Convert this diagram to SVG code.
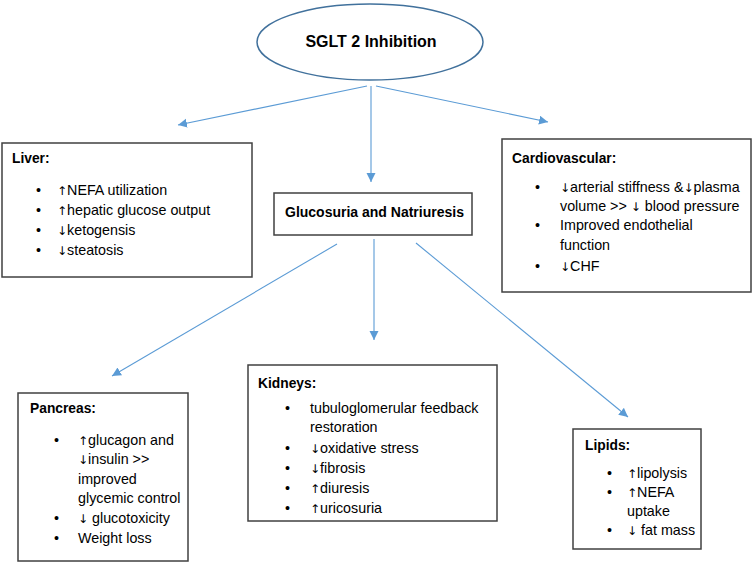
<svg xmlns="http://www.w3.org/2000/svg" width="753" height="562" viewBox="0 0 753 562">
<defs>
<marker id="ah" markerUnits="userSpaceOnUse" markerWidth="12" markerHeight="12" refX="9" refY="4.5" orient="auto">
<path d="M0,0 L9,4.5 L0,9 Z" fill="#5B9BD5"/>
</marker>
<style>
text{font-family:"Liberation Sans",Arial,sans-serif;font-size:14.3px;fill:#000}
.a{font-family:"DejaVu Sans",sans-serif;font-size:12px}
.h{font-weight:bold;font-size:13.8px}
.g{font-weight:bold;font-size:14px}
.t{font-weight:bold;font-size:16px}
.box{fill:#fff;stroke:#404040;stroke-width:1.5}
.c{stroke:#5B9BD5;stroke-width:1.1;fill:none;marker-end:url(#ah)}
</style>
</defs>
<rect width="753" height="562" fill="#fff"/>
<g id="connectors">
<line class="c" x1="367" y1="86" x2="178" y2="125"/>
<line class="c" x1="371" y1="86" x2="371" y2="182"/>
<line class="c" x1="376" y1="86" x2="548" y2="122"/>
<line class="c" x1="337" y1="244" x2="112" y2="376"/>
<line class="c" x1="374" y1="239" x2="374" y2="340"/>
<line class="c" x1="416" y1="243" x2="628" y2="417"/>
</g>
<g id="sglt2">
<ellipse cx="370" cy="42" rx="113" ry="38" fill="#fff" stroke="#41719C" stroke-width="1.5"/>
<text class="t" x="371" y="47" text-anchor="middle">SGLT 2 Inhibition</text>
</g>
<g id="liver">
<rect class="box" x="2" y="143" width="250" height="134"/>
<text class="h" x="12" y="163">Liver:</text>
<text x="36" y="195">•</text><text x="57" y="195"><tspan class="a">↑</tspan>NEFA utilization</text>
<text x="36" y="215">•</text><text x="57" y="215"><tspan class="a">↑</tspan>hepatic glucose output</text>
<text x="36" y="235">•</text><text x="57" y="235"><tspan class="a">↓</tspan>ketogensis</text>
<text x="36" y="255">•</text><text x="57" y="255"><tspan class="a">↓</tspan>steatosis</text>
</g>
<g id="glucosuria">
<rect class="box" x="274" y="193" width="198" height="42"/>
<text class="g" x="285" y="217">Glucosuria and Natriuresis</text>
</g>
<g id="cardiovascular">
<rect class="box" x="502" y="139" width="249" height="153"/>
<text class="h" x="512" y="163">Cardiovascular:</text>
<text x="535" y="192">•</text><text x="560" y="192"><tspan class="a">↓</tspan>arterial stiffness &amp;<tspan class="a">↓</tspan>plasma</text>
<text x="560" y="211">volume &gt;&gt; <tspan class="a">↓</tspan> blood pressure</text>
<text x="535" y="230">•</text><text x="560" y="230">Improved endothelial</text>
<text x="560" y="250">function</text>
<text x="535" y="271">•</text><text x="560" y="271"><tspan class="a">↓</tspan>CHF</text>
</g>
<g id="kidneys">
<rect class="box" x="248" y="365" width="249" height="156"/>
<text class="h" x="258" y="388">Kidneys:</text>
<text x="285" y="413">•</text><text x="310" y="413">tubuloglomerular feedback</text>
<text x="310" y="432">restoration</text>
<text x="285" y="453">•</text><text x="310" y="453"><tspan class="a">↓</tspan>oxidative stress</text>
<text x="285" y="473">•</text><text x="310" y="473"><tspan class="a">↓</tspan>fibrosis</text>
<text x="285" y="493">•</text><text x="310" y="493"><tspan class="a">↑</tspan>diuresis</text>
<text x="285" y="513">•</text><text x="310" y="513"><tspan class="a">↑</tspan>uricosuria</text>
</g>
<g id="pancreas">
<rect class="box" x="18" y="393" width="170" height="168"/>
<text class="h" x="30" y="413">Pancreas:</text>
<text x="54" y="445">•</text><text x="78" y="445"><tspan class="a">↑</tspan>glucagon and</text>
<text x="78" y="464"><tspan class="a">↓</tspan>insulin &gt;&gt;</text>
<text x="78" y="484">improved</text>
<text x="78" y="503">glycemic control</text>
<text x="54" y="523">•</text><text x="78" y="523"><tspan class="a">↓</tspan> glucotoxicity</text>
<text x="54" y="543">•</text><text x="78" y="543">Weight loss</text>
</g>
<g id="lipids">
<rect class="box" x="573" y="429" width="128" height="120"/>
<text class="h" x="585" y="450">Lipids:</text>
<text x="607" y="478">•</text><text x="627" y="478"><tspan class="a">↑</tspan>lipolysis</text>
<text x="607" y="497">•</text><text x="627" y="497"><tspan class="a">↑</tspan>NEFA</text>
<text x="627" y="516">uptake</text>
<text x="607" y="535">•</text><text x="627" y="535"><tspan class="a">↓</tspan> fat mass</text>
</g>
</svg>
